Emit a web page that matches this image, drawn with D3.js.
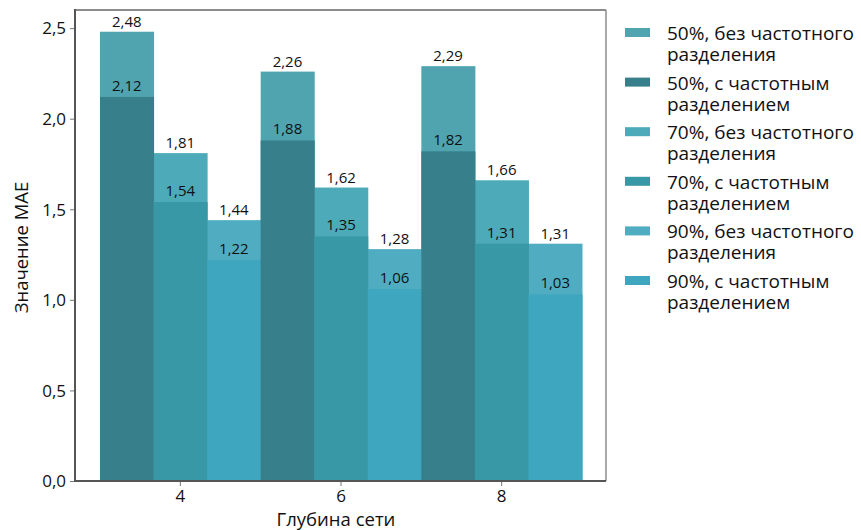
<!DOCTYPE html>
<html>
<head>
<meta charset="utf-8">
<script src="https://cdn.jsdelivr.net/npm/d3@7"></script>
<style>
  html, body { margin: 0; padding: 0; background: #fff; }
  svg { display: block; font-family: "Open Sans", "Noto Sans", sans-serif; }
</style>
</head>
<body>
<svg id="chart" width="861" height="530"></svg>
<script>
// ---- data ----
const depths = ["4", "6", "8"];
const ratios = ["50%", "70%", "90%"];
// without frequency separation (taller, lighter bars)
const without50 = [2.48, 2.26, 2.29];
const without70 = [1.81, 1.62, 1.66];
const without90 = [1.44, 1.28, 1.31];
// with frequency separation (shorter, darker bars)
const with50 = [2.12, 1.88, 1.82];
const with70 = [1.54, 1.35, 1.31];
const with90 = [1.22, 1.06, 1.03];
const yTicks = [0, 0.5, 1.0, 1.5, 2.0, 2.5];
const legendLabels = [
  ["50%, без частотного", "разделения"],
  ["50%, с частотным", "разделением"],
  ["70%, без частотного", "разделения"],
  ["70%, с частотным", "разделением"],
  ["90%, без частотного", "разделения"],
  ["90%, с частотным", "разделением"]
];
const xTitle = "Глубина сети";
const yTitle = "Значение MAE";

// colours
const colWithout = ["#4fa4b0", "#4daab9", "#50adc1"];
const colWith = ["#37808b", "#3998a6", "#3ea6be"];

const withoutSeries = [without50, without70, without90];
const withSeries = [with50, with70, with90];

// ---- layout ----
const svg = d3.select("#chart");
const L = 75, R = 606, T = 10, B = 481;

const x = d3.scaleBand().domain(depths).range([100, 582]).padding(0);
const xs = d3.scaleBand().domain(ratios).range([0, x.bandwidth()]).padding(0);
const y = d3.scaleLinear().domain([0, 2.6]).range([B, T]);
const fmt = v => d3.format(".2f")(v).replace(".", ",");

// bars
const bars = [];
depths.forEach((d, gi) => {
  ratios.forEach((r, ri) => {
    bars.push({ depth: d, ratio: r, ri, without: withoutSeries[ri][gi], with: withSeries[ri][gi] });
  });
});

const g = svg.append("g");
g.selectAll("rect.without").data(bars).join("rect")
  .attr("class", "without")
  .attr("x", d => x(d.depth) + xs(d.ratio))
  .attr("width", xs.bandwidth() + 0.5)
  .attr("y", d => y(d.without))
  .attr("height", d => y(0) - y(d.without))
  .attr("fill", d => colWithout[d.ri]);
g.selectAll("rect.with").data(bars).join("rect")
  .attr("class", "with")
  .attr("x", d => x(d.depth) + xs(d.ratio))
  .attr("width", xs.bandwidth() + 0.5)
  .attr("y", d => y(d.with))
  .attr("height", d => y(0) - y(d.with))
  .attr("fill", d => colWith[d.ri]);

// value labels
const lab = svg.append("g").attr("font-size", 15).attr("fill", "#111").attr("text-anchor", "middle");
lab.selectAll("text.lw").data(bars).join("text")
  .attr("x", d => x(d.depth) + xs(d.ratio) + xs.bandwidth() / 2)
  .attr("y", d => y(d.without) - 5)
  .text(d => fmt(d.without));
lab.selectAll("text.lc").data(bars).join("text")
  .attr("x", d => x(d.depth) + xs(d.ratio) + xs.bandwidth() / 2)
  .attr("y", d => y(d.with) - 6)
  .text(d => fmt(d.with));

// frame
svg.append("line").attr("x1", L).attr("x2", R).attr("y1", T).attr("y2", T)
  .attr("stroke", "#8c8c8c").attr("stroke-width", 2);
svg.append("line").attr("x1", R).attr("x2", R).attr("y1", T).attr("y2", B)
  .attr("stroke", "#8c8c8c").attr("stroke-width", 1.5);

// y axis
const yAxis = svg.append("g").attr("transform", `translate(${L},0)`)
  .call(d3.axisLeft(y).tickValues(yTicks).tickSize(5).tickPadding(4)
    .tickFormat(v => d3.format(".1f")(v).replace(".", ",")));
yAxis.select(".domain").remove();
yAxis.selectAll(".tick line").attr("stroke", "#777");
yAxis.selectAll(".tick text").attr("font-size", 17).attr("fill", "#111")
  .attr("font-family", "Open Sans").attr("dy", "0.34em");
svg.append("line").attr("x1", L).attr("x2", L).attr("y1", T - 1).attr("y2", B)
  .attr("stroke", "#555").attr("stroke-width", 2);

// x axis
const xAxis = svg.append("g").attr("transform", `translate(0,${B})`)
  .call(d3.axisBottom(x).tickSize(5).tickPadding(4));
xAxis.select(".domain").remove();
xAxis.selectAll(".tick line").attr("stroke", "#777");
xAxis.selectAll(".tick text").attr("font-size", 17).attr("fill", "#111")
  .attr("font-family", "Open Sans");
svg.append("line").attr("x1", L - 1).attr("x2", R).attr("y1", B).attr("y2", B)
  .attr("stroke", "#555").attr("stroke-width", 2);

// axis titles
svg.append("text").attr("x", 336).attr("y", 526).attr("text-anchor", "middle")
  .attr("font-size", 18.5).attr("fill", "#111").text(xTitle);
svg.append("text").attr("transform", `translate(28,${(T + B) / 2 + 2}) rotate(-90)`)
  .attr("text-anchor", "middle").attr("font-size", 18.5).attr("fill", "#111").text(yTitle);

// legend
const lg = svg.append("g");
const legendColors = [colWithout[0], colWith[0], colWithout[1], colWith[1], colWithout[2], colWith[2]];
legendLabels.forEach((lines, i) => {
  const cy = 32.5 + i * 49.6;
  lg.append("rect").attr("x", 625).attr("y", cy - 4.5).attr("width", 25).attr("height", 9)
    .attr("fill", legendColors[i]);
  const t = lg.append("text").attr("x", 667).attr("y", cy + 7.5)
    .attr("font-size", 19).attr("fill", "#111");
  lines.forEach((ln, k) => {
    t.append("tspan").attr("x", 667).attr("dy", k === 0 ? 0 : 21).text(ln);
  });
});
</script>
</body>
</html>
